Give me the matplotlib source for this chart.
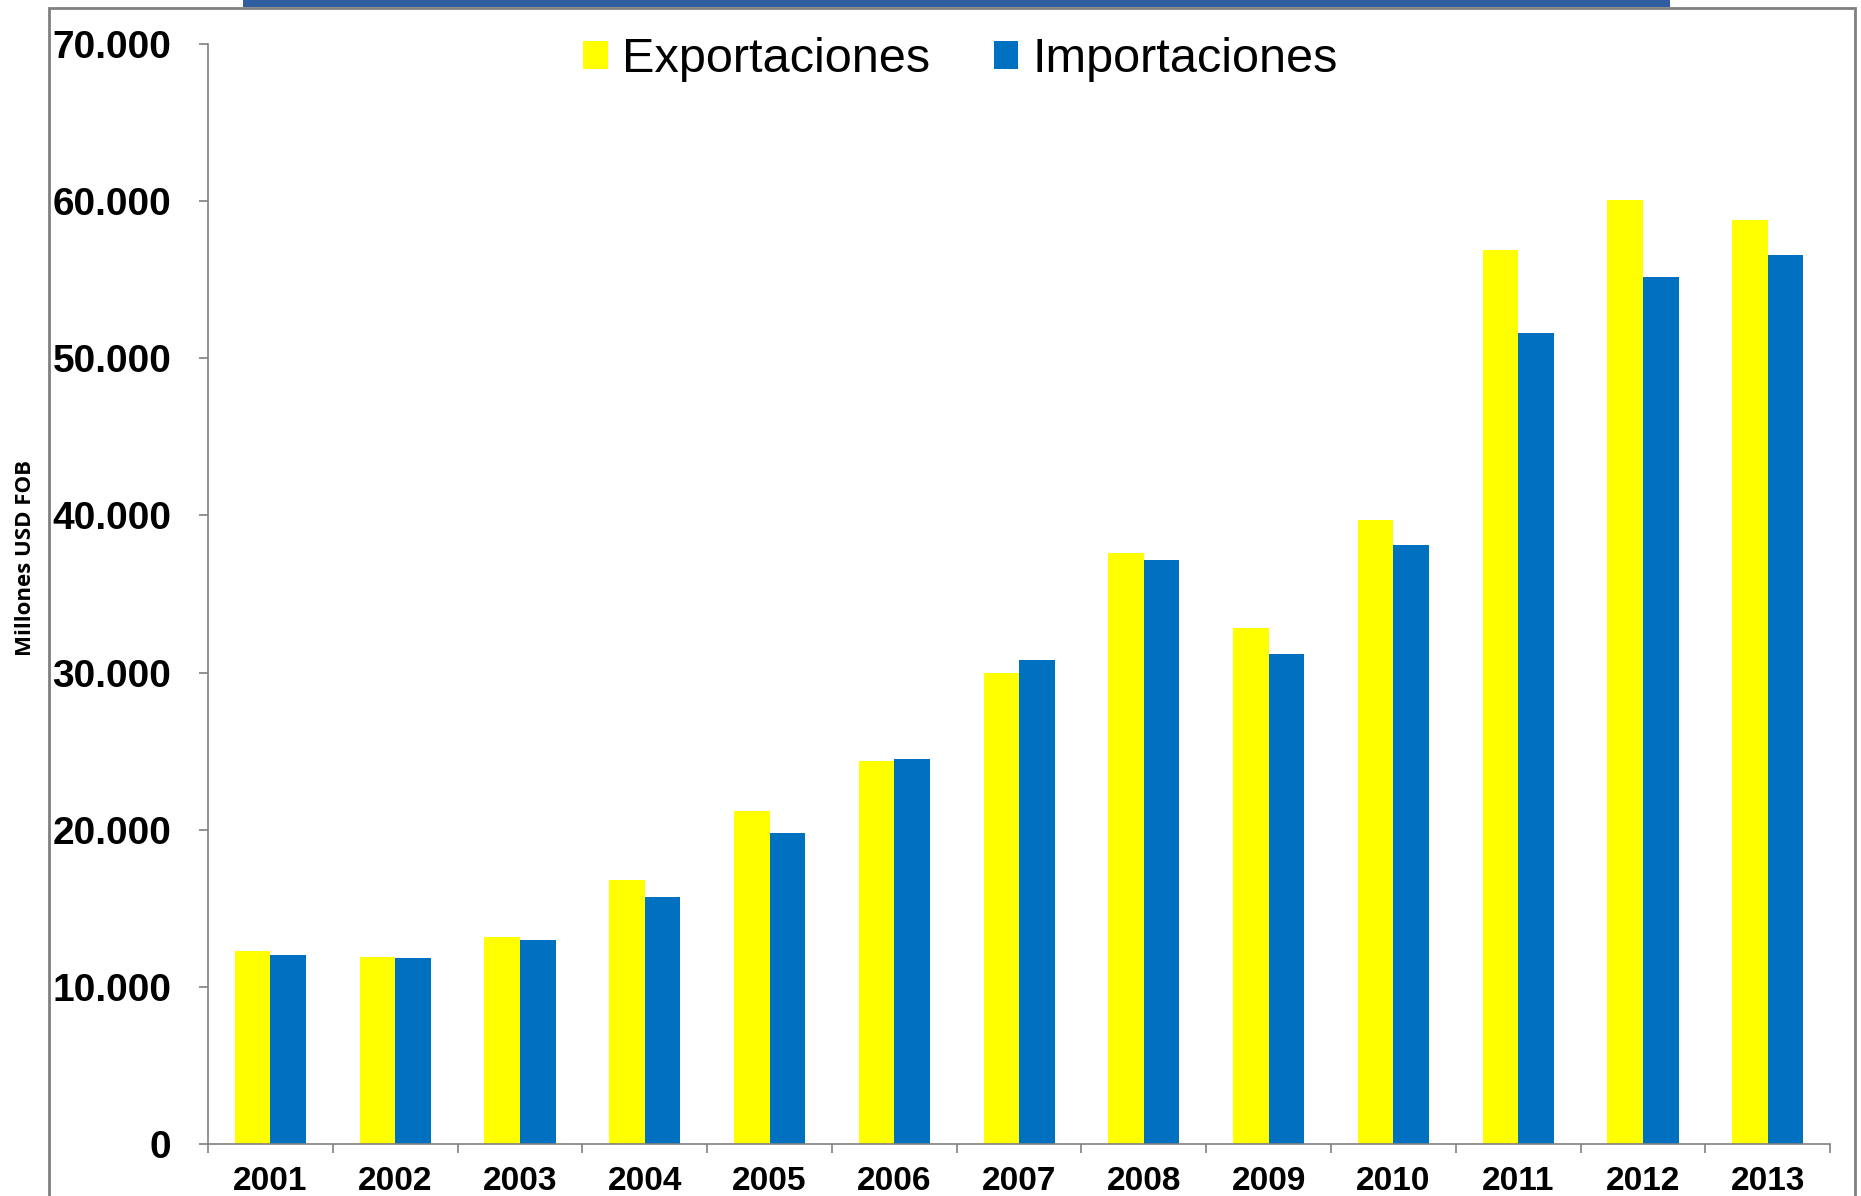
import matplotlib
matplotlib.use("Agg")
import matplotlib.pyplot as plt
import numpy as np
from matplotlib.patches import Rectangle
from matplotlib.ticker import FuncFormatter

plt.rcParams["font.family"] = ["Liberation Sans", "DejaVu Sans"]

years = ["2001", "2002", "2003", "2004", "2005", "2006", "2007",
         "2008", "2009", "2010", "2011", "2012", "2013"]
exportaciones = [12300, 11900, 13150, 16800, 21200, 24400, 30000,
                 37600, 32850, 39700, 56900, 60100, 58800]
importaciones = [12000, 11850, 13000, 15700, 19800, 24500, 30800,
                 37150, 31150, 38100, 51600, 55200, 56600]

COLOR_EXP = "#FFFF00"
COLOR_IMP = "#0070C0"
COLOR_AX = "#808080"

fig = plt.figure(figsize=(18.61, 11.96), dpi=100)
ax = fig.add_axes([0.1118, 0.0435, 0.8716, 0.9197])

x = np.arange(len(years))
w = 0.285
ax.bar(x - w / 2, exportaciones, w, color=COLOR_EXP, label="Exportaciones")
ax.bar(x + w / 2, importaciones, w, color=COLOR_IMP, label="Importaciones")

ax.set_xlim(-0.5, len(years) - 0.5)
ax.set_ylim(0, 70000)
ax.set_yticks(np.arange(0, 70001, 10000))
ax.yaxis.set_major_formatter(FuncFormatter(lambda v, p: f"{int(v):,}".replace(",", ".")))

ax.set_xticks(x)
ax.set_xticklabels(years)
ax.set_xticks(np.arange(-0.5, len(years)), minor=True)
ax.tick_params(axis="x", which="major", length=0, pad=15.5, labelsize=24)
ax.tick_params(axis="x", which="minor", length=6.5, color=COLOR_AX, width=1.2)
ax.tick_params(axis="y", length=6.5, color=COLOR_AX, width=1.2, pad=20, labelsize=28)
for lab in ax.get_xticklabels() + ax.get_yticklabels():
    lab.set_fontweight("bold")

for side in ["top", "right"]:
    ax.spines[side].set_visible(False)
for side in ["left", "bottom"]:
    ax.spines[side].set_color(COLOR_AX)
    ax.spines[side].set_linewidth(1.2)

ax.legend(loc="upper center", bbox_to_anchor=(0.464, 1.046), ncol=2, frameon=False,
          fontsize=35, handlelength=0.5, handleheight=0.5, handletextpad=0.3,
          columnspacing=1.3)

fig.text(26 / 1861, 1 - 558 / 1196, "Millones USD FOB", rotation=90,
         ha="center", va="center", fontsize=16, fontweight="bold",
         family=["Open Sans", "DejaVu Sans"])

# outer frame and the blue band above it
fig.patches.append(Rectangle((49 / 1861, -0.01), (1855 - 49) / 1861, 1.01 - 8 / 1196,
                             transform=fig.transFigure, fill=False,
                             edgecolor=COLOR_AX, linewidth=2))
fig.patches.append(Rectangle((243 / 1861, 1 - 7 / 1196), (1670 - 243) / 1861, 7 / 1196,
                             transform=fig.transFigure, facecolor="#2F5D9E",
                             edgecolor="none"))

fig.savefig("out.png", dpi=100)
